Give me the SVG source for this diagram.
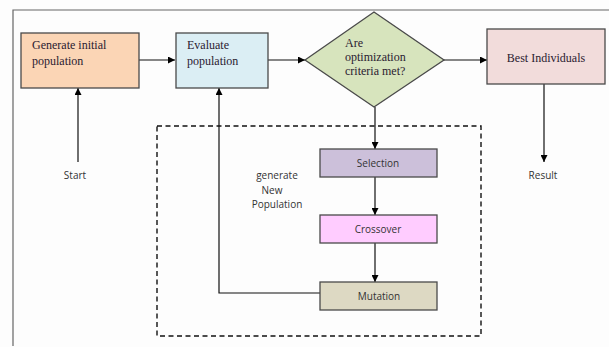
<svg xmlns="http://www.w3.org/2000/svg" width="609" height="347" viewBox="0 0 609 347">
<style>
.box{stroke:#4a4a4a;stroke-width:1.3}
.ser{font-family:"Liberation Serif","DejaVu Serif",serif;font-size:12px;fill:#2a2030}
.san{font-family:"Open Sans","Liberation Sans",sans-serif;font-size:10px;fill:#333}
.ln{stroke:#111;stroke-width:1.2;fill:none}
</style>
<defs>
<marker id="ah" viewBox="0 0 10 10" refX="10" refY="5" markerWidth="7" markerHeight="7" orient="auto" markerUnits="userSpaceOnUse">
<path d="M0,0 L10,5 L0,10 z" fill="#000"/>
</marker>
</defs>
<rect width="609" height="347" fill="#fdfdfd"/>
<path d="M13,346 V10 H609" fill="none" stroke="#666" stroke-width="1.2"/>
<g id="frame-dashed">
<rect x="157" y="126" width="324" height="210" fill="none" stroke="#111" stroke-width="1.4" stroke-dasharray="5,3.5"/>
</g>
<g id="connectors">
<line class="ln" x1="139" y1="60" x2="175" y2="60" marker-end="url(#ah)"/>
<line class="ln" x1="268" y1="60" x2="305" y2="60" marker-end="url(#ah)"/>
<line class="ln" x1="444" y1="60" x2="487" y2="60" marker-end="url(#ah)"/>
<line class="ln" x1="78" y1="162" x2="78" y2="88" marker-end="url(#ah)"/>
<line class="ln" x1="544" y1="84" x2="544" y2="162" marker-end="url(#ah)"/>
<line class="ln" x1="375" y1="107" x2="375" y2="149" marker-end="url(#ah)"/>
<line class="ln" x1="375" y1="177" x2="375" y2="215" marker-end="url(#ah)"/>
<line class="ln" x1="375" y1="243" x2="375" y2="282" marker-end="url(#ah)"/>
<polyline class="ln" points="320,293 219,293 219,88" marker-end="url(#ah)"/>
</g>
<g id="gen-init">
<rect class="box" x="21" y="33" width="118" height="55" fill="#fbd5b5"/>
<text class="ser" x="32" y="49">Generate initial</text>
<text class="ser" x="32" y="65">population</text>
</g>
<g id="evaluate">
<rect class="box" x="176" y="33" width="92" height="55" fill="#dbeef4"/>
<text class="ser" x="187" y="49">Evaluate</text>
<text class="ser" x="187" y="65">population</text>
</g>
<g id="decision">
<polygon class="box" points="305,60 374,12 444,60 374,107" fill="#d7e4bd"/>
<text class="ser" font-size="10" x="345" y="47">Are</text>
<text class="ser" font-size="10" x="345" y="61">optimization</text>
<text class="ser" font-size="10" x="345" y="75">criteria met?</text>
</g>
<g id="best">
<rect class="box" x="487" y="29" width="118" height="55" fill="#f2dcdb"/>
<text class="ser" x="546" y="62" text-anchor="middle">Best Individuals</text>
</g>
<g id="start"><text class="san" x="75" y="179" text-anchor="middle">Start</text></g>
<g id="result"><text class="san" x="543" y="179" text-anchor="middle">Result</text></g>
<g id="gen-new">
<text class="san" x="277" y="179" text-anchor="middle">generate</text>
<text class="san" x="272" y="194" text-anchor="middle">New</text>
<text class="san" x="277" y="208" text-anchor="middle">Population</text>
</g>
<g id="selection">
<rect class="box" x="320" y="149" width="117" height="28" fill="#ccc0da"/>
<text class="san" x="378" y="167" text-anchor="middle">Selection</text>
</g>
<g id="crossover">
<rect class="box" x="320" y="215" width="117" height="28" fill="#ffccff"/>
<text class="san" x="378" y="233" text-anchor="middle">Crossover</text>
</g>
<g id="mutation">
<rect class="box" x="320" y="282" width="117" height="28" fill="#ddd9c3"/>
<text class="san" x="379" y="300" text-anchor="middle">Mutation</text>
</g>
</svg>
